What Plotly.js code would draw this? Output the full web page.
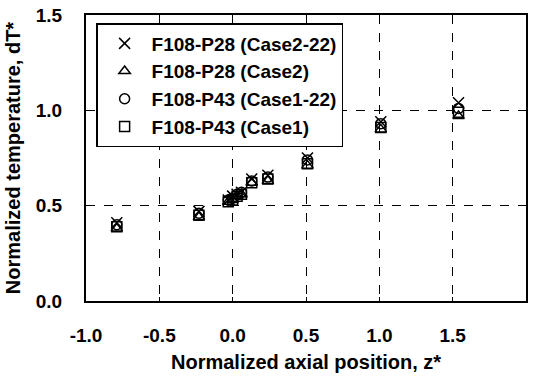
<!DOCTYPE html>
<html>
<head>
<meta charset="utf-8">
<script src="https://cdn.plot.ly/plotly-3.0.1.min.js"></script>
<style>html,body{margin:0;padding:0;background:#fff}#chart{width:538px;height:381px}</style>
</head>
<body>
<div id="chart"></div>
<script>
const zPos = [-0.79, -0.23, -0.03, 0.0, 0.03, 0.06, 0.13, 0.24, 0.51, 1.01, 1.54];
const case2_22 = [0.41, 0.47, 0.53, 0.55, 0.56, 0.57, 0.64, 0.66, 0.75, 0.94, 1.04];
const case2    = [0.38, 0.44, 0.52, 0.53, 0.55, 0.56, 0.62, 0.63, 0.71, 0.90, 0.97];
const case1_22 = [0.40, 0.46, 0.53, 0.54, 0.56, 0.57, 0.63, 0.65, 0.74, 0.93, 1.01];
const case1    = [0.39, 0.45, 0.52, 0.53, 0.55, 0.56, 0.62, 0.64, 0.72, 0.91, 0.99];
const seriesNames = ["F108-P28 (Case2-22)", "F108-P28 (Case2)", "F108-P43 (Case1-22)", "F108-P43 (Case1)"];
const xTicks = [-1.0, -0.5, 0.0, 0.5, 1.0, 1.5, 2.0];
const yTicks = [0.0, 0.5, 1.0, 1.5];

const symbols = ["x-thin-open", "triangle-up-open", "circle-open", "square-open"];
const sizes = [11, 10, 10, 10];
const data = [case2_22, case2, case1_22, case1].map((ys, i) => ({
  type: "scatter", mode: "markers", name: seriesNames[i],
  x: zPos, y: ys,
  marker: {symbol: symbols[i], size: sizes[i], color: "#000", line: {color: "#000", width: 1.5}}
}));

const fam = "Liberation Sans, Arial, sans-serif";
const bold = s => "<b>" + s + "</b>";
const layout = {
  width: 538, height: 381,
  margin: {l: 86, r: 12, t: 15, b: 80},
  paper_bgcolor: "#fff", plot_bgcolor: "#fff",
  font: {family: fam, color: "#000", weight: 700},
  showlegend: true,
  legend: {
    x: 0.023, y: 0.972, xanchor: "left", yanchor: "top",
    bgcolor: "#fff", bordercolor: "#000", borderwidth: 1.5,
    font: {family: fam, size: 19, color: "#000", weight: 700},
    itemwidth: 44, tracegroupgap: 0
  },
  xaxis: {
    range: [-1.0, 2.0], tickvals: xTicks, ticktext: xTicks.map(v => bold(v.toFixed(1))),
    showgrid: true, gridcolor: "#000", griddash: "dash", gridwidth: 1,
    zeroline: false, showline: true, linecolor: "#000", linewidth: 2, mirror: true,
    ticks: "inside", ticklen: 4, tickcolor: "#000", ticklabelstandoff: 16,
    tickfont: {family: fam, size: 19, weight: 700, color: "#000"},
    title: {text: "Normalized axial position, z*", font: {family: fam, size: 20, weight: 700}, standoff: 10}
  },
  yaxis: {
    range: [0.0, 1.5], tickvals: yTicks, ticktext: yTicks.map(v => bold(v.toFixed(1))),
    showgrid: true, gridcolor: "#000", griddash: "dash", gridwidth: 1,
    zeroline: false, showline: true, linecolor: "#000", linewidth: 2, mirror: true,
    ticks: "inside", ticklen: 4, tickcolor: "#000", ticklabelstandoff: 18,
    tickfont: {family: fam, size: 19, weight: 700, color: "#000"},
    title: {text: "Normalized temperature, dT*", font: {family: fam, size: 20, weight: 700}, standoff: 10}
  }
};
Plotly.newPlot("chart", data, layout, {displayModeBar: false, staticPlot: true});
</script>
</body>
</html>
